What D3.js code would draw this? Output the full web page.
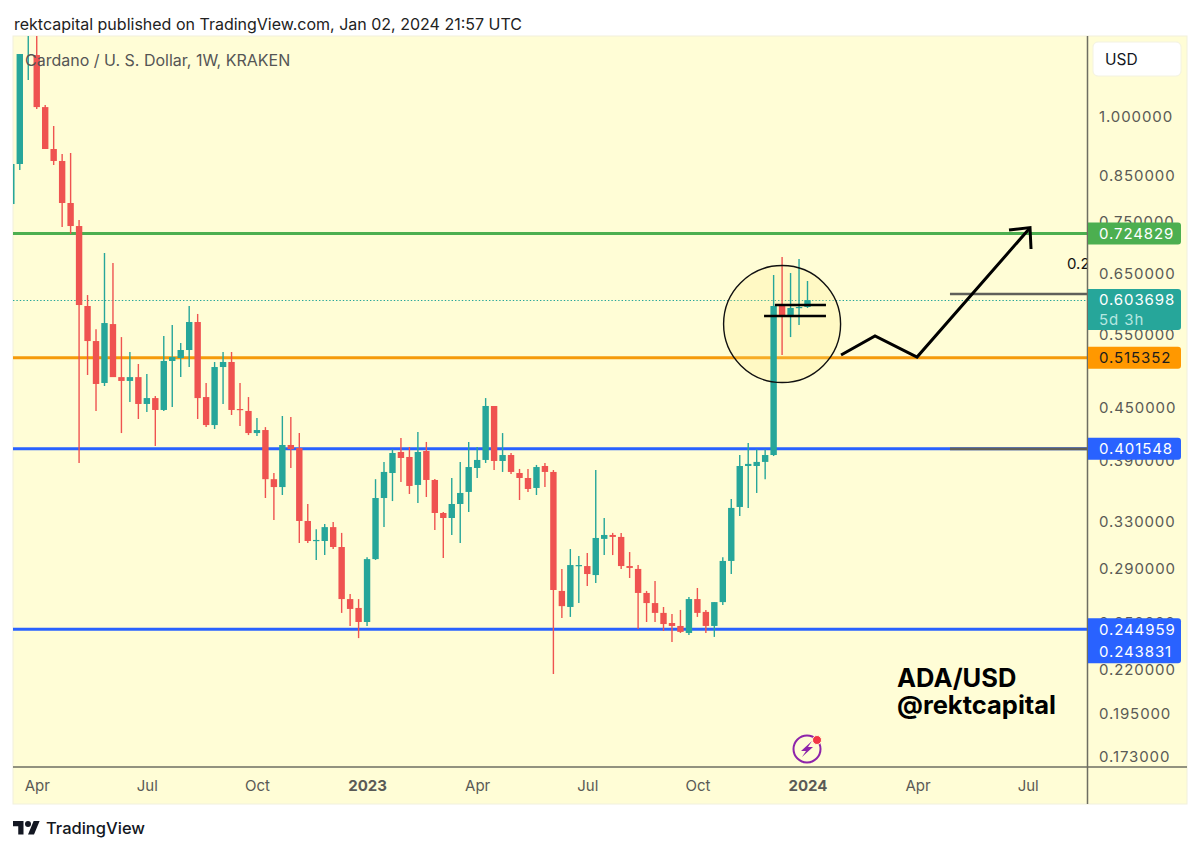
<!DOCTYPE html>
<html>
<head>
<meta charset="utf-8">
<script src="https://cdn.jsdelivr.net/npm/d3@7/dist/d3.min.js"></script>
<style>
html,body{margin:0;padding:0;background:#fff}
svg{display:block}
text{font-family:Inter,"Noto Sans",sans-serif}
</style>
</head>
<body>
<svg id="c" width="1200" height="851"></svg>
<script>
// weekly candles, oldest first (first bar: week of 2022-03-14)
const opens=[.7856,.8767,1.266,1.1819,1.0247,.9135,.8840,.7878,.7396,.5940,.5396,.4810,.5653,.4888,.4837,.4888,.4541,.4615,.4467,.5109,.5151,.5265,.5685,.4628,.4286,.5025,.5095,.4479,.4455,.4193,.4228,.3695,.3616,.4058,.4024,.3295,.3119,.3119,.3240,.3068,.2660,.2596,.2498,.2968,.3509,.3758,.3981,.3927,.3637,.3992,.3687,.3368,.3322,.3452,.3568,.3810,.3895,.4516,.3884,.3948,.3758,.3707,.3607,.3831,.3769,.2720,.2603,.2912,.2912,.2841,.3137,.3171,.3154,.2912,.2889,.2705,.2631,.2561,.2491,.2471,.2424,.2660,.2568,.2471,.2638,.2953,.3424,.3831,.3831,.3874,.3948,.5940,.5796,.5908,.5924];
const highs=[.8864,1.1852,1.374,1.301,1.0304,.9729,.9010,.9035,.7519,.6121,.5575,.6869,.6684,.5455,.5236,.5067,.4929,.4641,.5471,.5638,.5367,.5940,.5812,.4810,.5095,.5236,.5236,.4810,.4628,.4369,.4262,.3758,.4394,.4381,.4193,.3452,.3222,.3268,.3286,.3189,.2697,.2660,.2983,.3695,.3874,.4012,.4137,.4036,.4205,.4092,.3697,.3377,.3707,.3874,.4092,.4036,.4615,.4516,.4193,.3970,.3800,.3800,.3842,.3863,.3789,.2889,.3051,.2993,.3018,.3789,.3322,.3189,.3189,.3026,.2920,.2720,.2795,.2603,.2554,.2582,.2675,.2742,.2582,.2638,.2983,.3500,.3948,.4080,.4012,.4012,.6467,.6794,.6502,.6757,.6362];
const lows=[.7728,.8624,1.1037,1.0191,.9135,.8743,.7375,.7236,.3863,.4916,.4455,.4770,.4888,.4193,.4566,.4358,.4443,.4047,.4455,.4503,.4888,.5025,.4358,.4262,.4240,.4541,.4406,.4275,.4170,.4158,.3509,.3304,.3538,.3810,.3102,.3102,.2961,.3001,.3051,.2561,.2471,.2390,.2471,.2961,.3240,.3480,.3667,.3548,.3461,.3519,.3215,.2977,.3171,.3102,.3377,.3707,.3863,.3789,.3769,.3748,.3490,.3568,.3538,.3616,.2166,.2526,.2533,.2631,.2757,.2780,.3001,.3001,.2889,.2818,.2451,.2498,.2498,.2437,.2365,.2424,.2411,.2533,.2424,.2398,.2617,.2849,.3340,.3415,.3558,.3695,.3937,.5193,.5455,.5638,.5908];
const closes=[.8767,1.1852,1.337,1.0247,.9135,.8840,.7878,.7396,.5956,.5396,.4797,.5669,.4888,.4837,.4888,.4541,.4615,.4467,.5109,.5164,.5265,.5685,.4615,.4286,.5025,.5095,.4467,.4467,.4193,.4228,.3695,.3616,.4058,.4012,.3295,.3119,.3128,.3240,.3068,.2660,.2589,.2498,.2968,.3509,.3769,.3970,.3916,.3627,.3981,.3687,.3368,.3322,.3452,.3558,.3820,.3895,.4516,.3884,.3948,.3769,.3707,.3597,.3820,.3769,.2727,.2609,.2920,.2920,.2849,.3145,.3171,.3154,.2912,.2897,.2705,.2631,.2561,.2484,.2471,.2431,.2660,.2561,.2471,.2638,.2953,.3415,.3831,.3853,.3874,.3948,.5940,.5780,.5908,.5924,.6037];
const firstWeek=new Date(Date.UTC(2022,2,14));

const priceTicks=[1,.85,.75,.65,.55,.45,.39,.33,.29,.25,.22,.195,.173];
const timeTicks=[[2022,3,"Apr",0],[2022,6,"Jul",0],[2022,9,"Oct",0],[2023,0,"2023",1],[2023,3,"Apr",0],[2023,6,"Jul",0],[2023,9,"Oct",0],[2024,0,"2024",1],[2024,3,"Apr",0],[2024,6,"Jul",0]];
const firstMondayDay=[4,4,3,2,3,3,2,1,1,1];

const levels=[[.724829,"#4caf50"],[.515352,"#f59a0b"],[.401548,"#2962ff"],[.244959,"#2962ff"]];
const tags=[["0.724829",.724829,"#4caf50","#fff"],["0.515352",.515352,"#ff9800","#1c1c1c"],["0.401548",.401548,"#2962ff","#fff"],["0.244959",.244959,"#2962ff","#fff"]];
const lastPrice=.603698, countdown="5d 3h";
const lowerTag=["0.243831",.243831];

// annotations: weeks after the final bar, and price
const zigzag=[[3.96,.5193],[7.97,.5471],[12.93,.5164],[26.15,.7336]];
const arrowHead=[[23.79,.7316],[26.27,.7365],[26.39,.6945]];
const stripUpper=[[-3.85,.5956],[2.18,.5956]];
const stripLower=[[-5.13,.5780],[2.18,.5780]];
const greyLines=[[16.82,.6138],[16.82,.4015]];
const circleAt=[-3,.5653];

const W={l:13,r:1087.5,t:36,b:767,pane:1187,bottom:804};
const bg="#fffdd6", axisCol="#6e6e62", txt="#5a5a55";
const up="#26a69a", down="#ef5350";

const svg=d3.select("#c");
const y=d3.scaleLog().domain([1,.173]).range([116,756]);
const weekMs=7*864e5;
const x=d3.scaleUtc().domain([new Date(Date.UTC(2024,0,1)),new Date(Date.UTC(2024,0,8))]).range([807.5,815.97]);
const wk=w=>new Date(Date.UTC(2024,0,1)+w*weekMs);
const bars=opens.map((o,i)=>({d:new Date(+firstWeek+i*weekMs),o,h:highs[i],l:lows[i],c:closes[i]}));

svg.append("rect").attr("x",W.l).attr("y",W.t).attr("width",W.pane-W.l).attr("height",W.bottom-W.t).attr("fill",bg).attr("stroke","#f1f0dc").attr("stroke-width",1);
svg.append("defs").append("clipPath").attr("id","clip").append("rect").attr("x",W.l).attr("y",W.t).attr("width",W.r-W.l).attr("height",W.b-W.t);
const plot=svg.append("g").attr("clip-path","url(#clip)");

plot.append("line").attr("x1",W.l).attr("x2",W.r).attr("y1",Math.round(y(lastPrice))+.5).attr("y2",Math.round(y(lastPrice))+.5).attr("stroke",up).attr("stroke-width",1).attr("stroke-dasharray","1.4 2");
plot.selectAll(".lvl").data(levels).join("line").attr("x1",W.l).attr("x2",W.r).attr("y1",d=>y(d[0])).attr("y2",d=>y(d[0])).attr("stroke",d=>d[1]).attr("stroke-width",3);
plot.selectAll(".grey").data(greyLines).join("line").attr("x1",d=>x(wk(d[0]))).attr("x2",W.r).attr("y1",d=>y(d[1])).attr("y2",d=>y(d[1])).attr("stroke","#5f5f5a").attr("stroke-width",2.6);

// circle fill sits under the candles
const circle=[x(wk(circleAt[0])),y(circleAt[1])];
plot.append("circle").attr("cx",circle[0]).attr("cy",circle[1]).attr("r",58.5).attr("fill","rgba(255,235,130,.22)");

plot.selectAll(".wick").data(bars).join("line").attr("x1",d=>x(d.d)).attr("x2",d=>x(d.d)).attr("y1",d=>y(d.h)).attr("y2",d=>y(d.l)).attr("stroke",d=>d.c>=d.o?up:down).attr("stroke-width",1.4);
plot.selectAll(".body").data(bars).join("rect").attr("x",d=>x(d.d)-3.2).attr("width",6.4)
  .attr("y",d=>y(Math.max(d.o,d.c))).attr("height",d=>Math.max(1.2,Math.abs(y(d.o)-y(d.c)))).attr("fill",d=>d.c>=d.o?up:down);

// annotation drawing
const line=d3.line().x(d=>x(wk(d[0]))).y(d=>y(d[1]));
plot.append("circle").attr("cx",circle[0]).attr("cy",circle[1]).attr("r",58.5).attr("fill","none").attr("stroke","#111").attr("stroke-width",1.4);
[stripUpper,stripLower].forEach(s=>plot.append("path").attr("d",line(s)).attr("fill","none").attr("stroke","#000").attr("stroke-width",2.6));
plot.append("path").attr("d",line(zigzag)).attr("fill","none").attr("stroke","#000").attr("stroke-width",3);
plot.append("path").attr("d",line(arrowHead)).attr("fill","none").attr("stroke","#000").attr("stroke-width",3);
plot.append("text").attr("x",x(wk(30.64))).attr("y",y(.6665)).attr("dy",".36em").attr("font-size",15).attr("fill","#111").text("0.2");

plot.append("text").attr("x",897).attr("y",687).attr("font-size",25.5).attr("font-weight",700).attr("fill","#000").style("font-family","Inter").text("ADA/USD");
plot.append("text").attr("x",897).attr("y",714).attr("font-size",25.5).attr("font-weight",700).attr("fill","#000").style("font-family","Inter").text("@rektcapital");

// axes
const yAxis=d3.axisRight(y).tickValues(priceTicks).tickSize(0).tickPadding(0).tickFormat(d3.format(".6f"));
const ya=svg.append("g").attr("transform",`translate(1099,0)`).call(yAxis);
ya.select(".domain").remove();
ya.selectAll("text").attr("dy",".38em").attr("font-size",15).attr("fill",txt).attr("letter-spacing",".9").style("font-family","Inter");

const tickDates=timeTicks.map((t,i)=>new Date(Date.UTC(t[0],t[1],firstMondayDay[i])));
const xAxis=d3.axisBottom(x).tickValues(tickDates).tickSize(0).tickPadding(0).tickFormat((d,i)=>timeTicks[i][2]);
const xa=svg.append("g").attr("transform","translate(0,780)").call(xAxis);
xa.select(".domain").remove();
xa.selectAll("text").attr("font-size",d=>15).attr("fill",txt).attr("font-weight",(d,i)=>timeTicks[i][3]?700:400).style("font-family","Inter");

svg.append("line").attr("x1",W.r).attr("x2",W.r).attr("y1",W.t).attr("y2",W.bottom).attr("stroke",axisCol).attr("stroke-width",1.5);
svg.append("line").attr("x1",W.l).attr("x2",W.pane).attr("y1",W.b).attr("y2",W.b).attr("stroke",axisCol).attr("stroke-width",1.5);

// price tags
function tag(cy,h,fill){svg.append("path").attr("d",`M1088 ${cy} h90 a3 3 0 0 1 3 3 v${h-6} a3 3 0 0 1 -3 3 h-90 z`).attr("fill",fill);}
function tagText(t,cy,col){svg.append("text").attr("x",1099).attr("y",cy).attr("dy",".36em").attr("font-size",15).attr("letter-spacing",".9").attr("fill",col).style("font-family","Inter").text(t);}
tags.forEach(t=>{tag(y(t[1])-11,t[1]===.244959?45:22,t[2]);tagText(t[0],y(t[1]),t[3]);});
tagText(lowerTag[0],y(lowerTag[1])+21,"#fff");
tag(y(lastPrice)-11,41,up);
tagText(d3.format(".6f")(lastPrice),y(lastPrice),"#fff");
tagText(countdown,y(lastPrice)+20,"#b5e6e0");

// USD button
svg.append("rect").attr("x",1093).attr("y",42).attr("width",88).attr("height",34).attr("rx",5).attr("fill","#fff").attr("stroke","#f3f2e2");
svg.append("text").attr("x",1105).attr("y",59).attr("dy",".36em").attr("font-size",15.5).attr("fill","#131722").style("font-family","Inter").text("USD");

// texts
svg.append("text").attr("x",14).attr("y",24).attr("dy",".36em").attr("font-size",16).attr("fill","#222").text("rektcapital published on TradingView.com, Jan 02, 2024 21:57 UTC");
svg.append("text").attr("x",25).attr("y",60).attr("dy",".36em").attr("font-size",16).attr("fill","#555").text("Cardano / U. S. Dollar, 1W, KRAKEN");

// lightning badge
const b=svg.append("g").attr("transform","translate(807,749)");
b.append("circle").attr("r",13.5).attr("fill","none").attr("stroke","#8e24aa").attr("stroke-width",2);
b.append("path").attr("d","M5 -8 L-6 2 L-1 2 L-5 8 L6 -2 L1 -2 Z").attr("fill","#8e24aa");
b.append("circle").attr("cx",10).attr("cy",-9).attr("r",4.5).attr("fill","#f23645").attr("stroke",bg).attr("stroke-width",1);

// footer logo
const l=svg.append("g").attr("transform","translate(13,818) scale(.75)").attr("fill","#131722");
l.append("path").attr("d","M14 22H7V11H0V4h14v18zM28 22h-8l7.5-18h8L28 22z");
l.append("circle").attr("cx",20).attr("cy",8).attr("r",4);
svg.append("text").attr("x",46).attr("y",828).attr("dy",".36em").attr("font-size",16.5).attr("font-weight",500).attr("fill","#131722").text("TradingView");
</script>
</body>
</html>
